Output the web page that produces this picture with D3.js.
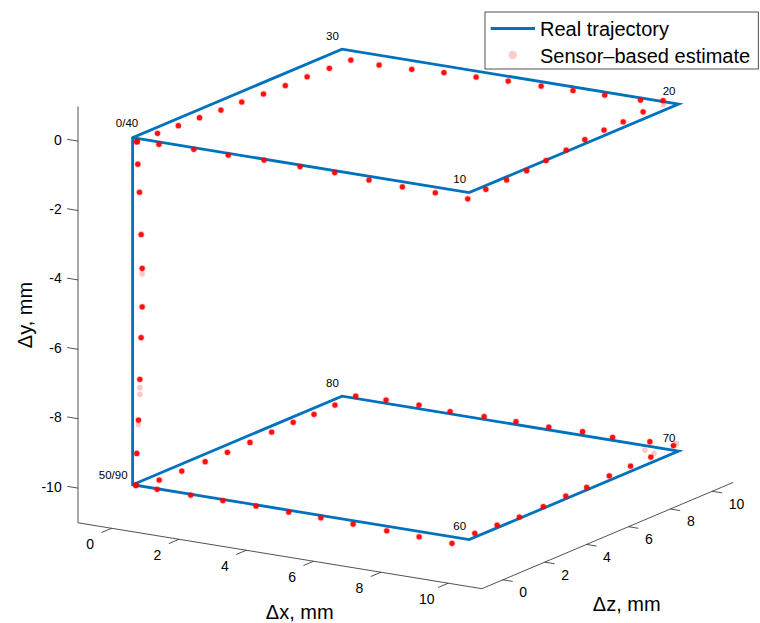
<!DOCTYPE html>
<html>
<head>
<meta charset="utf-8">
<script src="https://cdn.jsdelivr.net/npm/d3@7"></script>
<style>
  body { margin: 0; background: #fff; }
  text { font-family: "Liberation Sans", Arial, Helvetica, sans-serif; fill: #000; }
</style>
</head>
<body>
<svg id="chart" width="760" height="623"></svg>
<script>
// Axis limits (mm) and tick values
const xDomain = [-1, 11];
const yDomain = [-11, 1];
const zDomain = [-1, 11];
const xTicks = [0, 2, 4, 6, 8, 10];
const yTicks = [0, -2, -4, -6, -8, -10];
const zTicks = [0, 2, 4, 6, 8, 10];

// Corners of the commanded (real) trajectory, in mm
const trajX = [0, 10, 10, 0, 0, 0, 10, 10, 0, 0];
const trajY = [0, 0, 0, 0, 0, -10, -10, -10, -10, -10];
const trajZ = [0, 0, 10, 10, 0, 0, 0, 10, 10, 0];

// Sample-index labels placed at trajectory corners
const cornerLabels = ["0/40", "10", "20", "30", "50/90", "60", "70", "80"];
const cornerIndex  = [0, 1, 2, 3, 5, 6, 7, 8];

// Sensor-based estimate for samples 0..90 (mm)
const estX = [0.30, 0.90, 1.90, 2.93, 3.95, 5.05, 6.10, 7.21, 8.27, 9.28, 10.28,
  10.19, 10.16, 10.12, 10.02, 9.92, 9.79, 9.72, 9.71, 9.63, 9.49,
  8.98, 7.96, 7.05, 6.14, 5.18, 4.29, 3.37, 2.52, 1.60, 0.74,
  0.70, 0.65, 0.63, 0.59, 0.53, 0.49, 0.42, 0.37, 0.31, 0.29,
  0.31, 0.36, 0.41, 0.44, 0.44, 0.41, 0.37, 0.33, 0.28, 0.09,
  0.76, 1.77, 2.74, 3.73, 4.73, 5.71, 6.72, 7.78, 8.78, 9.82,
  9.80, 9.86, 9.93, 9.92, 9.86, 9.87, 9.77, 9.73, 9.71, 9.61,
  8.91, 7.89, 6.96, 6.00, 5.02, 4.08, 3.10, 2.10, 1.14, 0.29,
  0.30, 0.32, 0.28, 0.31, 0.37, 0.39, 0.39, 0.36, 0.33, 0.11];
const estY = [0, 0, 0, 0, 0, 0, 0, 0, 0, 0, 0,
  0, 0, 0, 0, 0, 0, 0, 0, 0, 0,
  0, 0, 0, 0, 0, 0, 0, 0, 0, 0,
  0, 0, 0, 0, 0, 0, 0, 0, 0, 0,
  -0.65, -1.45, -2.66, -3.63, -4.74, -5.63, -6.84, -8.02, -8.99, -10,
  -10, -10, -10, -10, -10, -10, -10, -10, -10, -10,
  -10, -10, -10, -10, -10, -10, -10, -10, -10, -10,
  -10, -10, -10, -10, -10, -10, -10, -10, -10, -10,
  -10, -10, -10, -10, -10, -10, -10, -10, -10, -10];
const estZ = [-0.26, -0.19, -0.13, -0.14, -0.07, -0.12, -0.15, -0.30, -0.41, -0.46, -0.52,
  0.49, 1.53, 2.55, 3.64, 4.76, 5.86, 6.89, 7.82, 8.90, 10.08,
  9.82, 9.75, 9.70, 9.64, 9.61, 9.51, 9.45, 9.28, 9.20, 9.23,
  8.27, 7.29, 6.28, 5.30, 4.36, 3.43, 2.52, 1.59, 0.69, -0.27,
  -0.25, -0.25, -0.25, -0.25, -0.25, -0.25, -0.25, -0.25, -0.25, 0.02,
  -0.05, -0.07, -0.09, -0.10, -0.15, -0.19, -0.27, -0.37, -0.43, -0.53,
  0.59, 1.56, 2.51, 3.67, 4.84, 5.82, 7.06, 8.14, 9.14, 10.38,
  10.38, 10.24, 10.30, 10.23, 10.24, 10.23, 10.18, 10.30, 10.27, 10.19,
  9.18, 8.15, 7.22, 6.14, 5.01, 3.90, 2.84, 1.77, 0.74, -0.02];

// Scattered repeat estimates that do not coincide with the main cluster
const strayX = [9.70, 0.44, 0.37, 0.37, 0.33, 9.23, 9.59, 9.57];
const strayY = [0, -3.79, -7.08, -7.27, -8.15, -10, -10, -10];
const strayZ = [9.76, -0.25, -0.25, -0.25, -0.25, 9.63, 9.49, 10.60];

const svg = d3.select("#chart");
const W = 760, H = 623;
svg.append("rect").attr("width", W).attr("height", H).attr("fill", "#fff");

// Orthographic 3-D view: each axis maps its range onto a screen edge of the axes box
const boxOrigin = [78, 522.8];          // screen position of (xmin, ymin, zmin)
const xEdge = [403.9, 65.9];            // screen vector spanning the full x range
const yEdge = [0, -416.4];              // screen vector spanning the full y range
const zEdge = [251.3, -106.3];          // screen vector spanning the full z range

const sx = d3.scaleLinear().domain(xDomain).range([0, 1]);
const sy = d3.scaleLinear().domain(yDomain).range([0, 1]);
const sz = d3.scaleLinear().domain(zDomain).range([0, 1]);

function project(x, y, z) {
  const a = sx(x), b = sy(y), c = sz(z);
  return [
    boxOrigin[0] + a * xEdge[0] + b * yEdge[0] + c * zEdge[0],
    boxOrigin[1] + a * xEdge[1] + b * yEdge[1] + c * zEdge[1]
  ];
}
function unit(v) { const n = Math.hypot(v[0], v[1]); return [v[0] / n, v[1] / n]; }

const axisColor = "#262626";
const gAxes = svg.append("g");

// Axis lines
const axisLines = [
  [project(xDomain[0], yDomain[0], zDomain[0]), project(xDomain[0], yDomain[1], zDomain[0])],
  [project(xDomain[0], yDomain[0], zDomain[0]), project(xDomain[1], yDomain[0], zDomain[0])],
  [project(xDomain[1], yDomain[0], zDomain[0]), project(xDomain[1], yDomain[0], zDomain[1])]
];
gAxes.selectAll("line.axis").data(axisLines).join("line")
  .attr("class", "axis")
  .attr("x1", d => d[0][0]).attr("y1", d => d[0][1])
  .attr("x2", d => d[1][0]).attr("y2", d => d[1][1])
  .attr("stroke", axisColor).attr("stroke-width", 0.8);

const tickLen = 11;
const dirNegZ = unit([-zEdge[0], -zEdge[1]]);
const dirNegX = unit([-xEdge[0], -xEdge[1]]);
const dirPosX = unit(xEdge);

// x ticks (pointing toward the viewer, along -z)
const xt = xTicks.map(t => ({ t, p: project(t, yDomain[0], zDomain[0]) }));
gAxes.selectAll("line.xt").data(xt).join("line")
  .attr("x1", d => d.p[0]).attr("y1", d => d.p[1])
  .attr("x2", d => d.p[0] + dirNegZ[0] * tickLen).attr("y2", d => d.p[1] + dirNegZ[1] * tickLen)
  .attr("stroke", axisColor).attr("stroke-width", 0.8);
gAxes.selectAll("text.xt").data(xt).join("text")
  .attr("x", d => d.p[0] - 21.5).attr("y", d => d.p[1] + 16)
  .attr("text-anchor", "middle").attr("dominant-baseline", "central")
  .attr("font-size", 14).attr("fill", axisColor)
  .text(d => d.t);

// y ticks (vertical axis, pointing along -x)
const yt = yTicks.map(t => ({ t, p: project(xDomain[0], t, zDomain[0]) }));
gAxes.selectAll("line.yt").data(yt).join("line")
  .attr("x1", d => d.p[0]).attr("y1", d => d.p[1])
  .attr("x2", d => d.p[0] + dirNegX[0] * tickLen).attr("y2", d => d.p[1] + dirNegX[1] * tickLen)
  .attr("stroke", axisColor).attr("stroke-width", 0.8);
gAxes.selectAll("text.yt").data(yt).join("text")
  .attr("x", d => d.p[0] - 16.3).attr("y", d => d.p[1] - 1.5)
  .attr("text-anchor", "end").attr("dominant-baseline", "central")
  .attr("font-size", 14).attr("fill", axisColor)
  .text(d => d.t);

// z ticks (pointing outward, along +x)
const zt = zTicks.map(t => ({ t, p: project(xDomain[1], yDomain[0], t) }));
gAxes.selectAll("line.zt").data(zt).join("line")
  .attr("x1", d => d.p[0]).attr("y1", d => d.p[1])
  .attr("x2", d => d.p[0] + dirPosX[0] * 10).attr("y2", d => d.p[1] + dirPosX[1] * 10)
  .attr("stroke", axisColor).attr("stroke-width", 0.8);
gAxes.selectAll("text.zt").data(zt).join("text")
  .attr("x", d => d.p[0] + 16.5).attr("y", d => d.p[1] + 12.5)
  .attr("text-anchor", "start").attr("dominant-baseline", "central")
  .attr("font-size", 14).attr("fill", axisColor)
  .text(d => d.t);

// Axis titles
gAxes.append("text").attr("x", 299.7).attr("y", 618.5)
  .attr("text-anchor", "middle").attr("font-size", 20).attr("fill", axisColor)
  .text("Δx, mm");
gAxes.append("text").attr("x", 626.7).attr("y", 610.5)
  .attr("text-anchor", "middle").attr("font-size", 20).attr("fill", axisColor)
  .text("Δz, mm");
gAxes.append("text").attr("transform", "translate(31.5,315) rotate(-90)")
  .attr("text-anchor", "middle").attr("font-size", 20).attr("fill", axisColor)
  .text("Δy, mm");

// Real trajectory
const trajPts = trajX.map((x, i) => project(x, trajY[i], trajZ[i]));
svg.append("path")
  .attr("d", d3.line()(trajPts))
  .attr("fill", "none").attr("stroke", "#0072BD")
  .attr("stroke-width", 2.8).attr("stroke-linejoin", "miter");

// Sensor-based estimate
const est = estX.map((x, i) => project(x, estY[i], estZ[i]));
const stray = strayX.map((x, i) => project(x, strayY[i], strayZ[i]));
const gEst = svg.append("g");
gEst.selectAll("circle.halo").data(est).join("circle")
  .attr("cx", d => d[0]).attr("cy", d => d[1]).attr("r", 3.4)
  .attr("fill", "#ff0000").attr("fill-opacity", 0.25);
gEst.selectAll("circle.stray").data(stray).join("circle")
  .attr("cx", d => d[0]).attr("cy", d => d[1]).attr("r", 2.8)
  .attr("fill", "#ff0000").attr("fill-opacity", 0.22);
gEst.selectAll("circle.core").data(est).join("circle")
  .attr("cx", d => d[0]).attr("cy", d => d[1]).attr("r", 2.6)
  .attr("fill", "#ff0000").attr("fill-opacity", 0.92);

// Corner labels (sample indices)
const labelShift = { "0/40": [-5.6, -14.4], "50/90": [-19.4, -9.7] };
svg.selectAll("text.corner").data(cornerLabels).join("text")
  .attr("x", (d, i) => { const p = trajPts[cornerIndex[i]]; return p[0] + (labelShift[d] ? labelShift[d][0] : -9.5); })
  .attr("y", (d, i) => { const p = trajPts[cornerIndex[i]]; return p[1] + (labelShift[d] ? labelShift[d][1] : -13.5); })
  .attr("text-anchor", "middle").attr("dominant-baseline", "central")
  .attr("font-size", 11.5)
  .text(d => d);

// Legend
const lg = svg.append("g");
lg.append("rect").attr("x", 485).attr("y", 12).attr("width", 273.3).attr("height", 57)
  .attr("fill", "#fff").attr("stroke", axisColor).attr("stroke-width", 0.8);
lg.append("line").attr("x1", 490.7).attr("x2", 535).attr("y1", 28.5).attr("y2", 28.5)
  .attr("stroke", "#0072BD").attr("stroke-width", 2.8);
lg.append("circle").attr("cx", 512.7).attr("cy", 55).attr("r", 4.2)
  .attr("fill", "#ff0000").attr("fill-opacity", 0.2);
lg.append("text").attr("x", 540).attr("y", 28.5).attr("dominant-baseline", "central")
  .attr("font-size", 20).text("Real trajectory");
lg.append("text").attr("x", 540).attr("y", 55.5).attr("dominant-baseline", "central")
  .attr("font-size", 20).text("Sensor\u2013based estimate");
</script>
</body>
</html>
